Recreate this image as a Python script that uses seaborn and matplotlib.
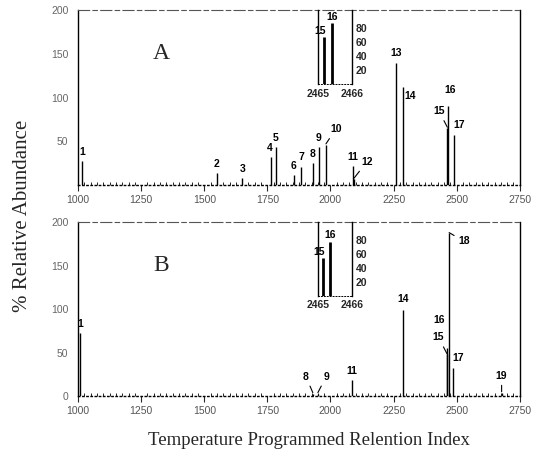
import matplotlib
matplotlib.use('Agg')
from matplotlib import pyplot as plt
from matplotlib.ticker import MultipleLocator
import seaborn as sns
import pandas as pd

# peak data: retention index, % relative abundance
a_ids = ["1", "2", "3", "4", "5", "6", "7", "8", "9", "10", "11", "12", "13", "14", "15", "16", "17"]
a_ri = [1016, 1550, 1650, 1764, 1784, 1855, 1883, 1930, 1954, 1982, 2089, 2094, 2259, 2287, 2463, 2467, 2488]
a_ab = [27, 14, 8, 32, 43, 11, 21, 25, 43, 46, 22, 7, 139, 112, 65, 90, 57]

b_ids = ["1", "8", "9", "11", "14", "15", "16", "18", "17", "19"]
b_ri = [1008, 1930, 1950, 2085, 2287, 2461, 2463, 2470, 2484, 2678]
b_ab = [72, 3, 3, 18, 99, 48, 55, 187, 32, 4]

# expanded inset around RI 2465-2466 (peaks 15 and 16)
inset_ids = ["15", "16"]
a_inset_ri = [2465.18, 2465.41]
a_inset_ab = [67, 87]
b_inset_ri = [2465.15, 2465.36]
b_inset_ab = [54, 78]

xticks = [1000, 1250, 1500, 1750, 2000, 2250, 2500, 2750]

# label offsets (points) and whether an arrow is drawn
a_style = {"10": (7, 7, True), "12": (9, 8, True), "15": (-6, 8, True), "16": (1, 8, False),
           "13": (0, 4, False), "14": (5, -10, False), "17": (4, 4, False), "4": (-1, 3, False)}
b_style = {"8": (-5, 8, True), "9": (6, 8, True), "15": (-6, 8, True), "18": (11, -10, True),
           "19": (0, 8, True), "16": (-6, 17, False), "17": (4, 4, False), "14": (0, 4, False)}

sns.set_theme(style="ticks")
plt.rcParams['font.family'] = ['Liberation Sans', 'DejaVu Sans']

fig = plt.figure(figsize=(5.46, 4.59), dpi=100)
ax_a = fig.add_axes([0.143, 0.597, 0.809, 0.381])
ax_b = fig.add_axes([0.143, 0.137, 0.809, 0.379])

lab_font = dict(fontsize=7.5, fontweight='bold', color='black')


def panel(ax, ids, ri, ab, style, letter, show_zero, ins_ri, ins_ab):
    df = pd.DataFrame({"id": ids, "ri": ri, "ab": ab})
    ax.vlines(df["ri"], 0, df["ab"], color='black', lw=1.0)
    for _, r in df.iterrows():
        dx, dy, arrow = style.get(r["id"], (0, 3, False))
        if arrow:
            ax.annotate(r["id"], (r["ri"], r["ab"] + 1), xytext=(dx, dy), textcoords='offset points',
                        ha='center', va='bottom', arrowprops=dict(arrowstyle='-', lw=0.8, color='black',
                                                                   shrinkA=1, shrinkB=0), **lab_font)
        else:
            ax.annotate(r["id"], (r["ri"], r["ab"]), xytext=(dx, dy), textcoords='offset points',
                        ha='center', va='bottom', **lab_font)
    ax.set_xlim(1000, 2750)
    ax.set_ylim(0, 200)
    ax.set_xticks(xticks)
    ax.xaxis.set_minor_locator(MultipleLocator(25))
    ax.set_yticks([0, 50, 100, 150, 200] if show_zero else [50, 100, 150, 200])
    ax.tick_params(axis='x', which='major', direction='out', length=4, width=0.8, labelsize=7.5,
                   labelcolor='#555555', pad=3)
    ax.tick_params(axis='x', which='minor', direction='in', length=2.5, width=0.7)
    ax.tick_params(axis='y', length=0, labelsize=7.5, labelcolor='#666666', pad=7)
    for s in ['left', 'right', 'bottom']:
        ax.spines[s].set_color('black')
        ax.spines[s].set_linewidth(1.0)
    ax.spines['top'].set_color('#555555')
    ax.spines['top'].set_linewidth(0.8)
    ax.spines['top'].set_linestyle((0, (10, 3, 4, 3)))
    ax.spines['bottom'].set_linestyle((0, (1, 2)))
    ax.text(1330, 150, letter, fontsize=17, family='Liberation Serif', ha='center', va='center')

    ins = ax.inset_axes([1952, 115, 133, 85], transform=ax.transData)
    ins.patch.set_alpha(0)
    ins.vlines(ins_ri, 0, ins_ab, color='black', lw=2.0)
    for name, x, y in zip(inset_ids, ins_ri, ins_ab):
        ins.annotate(name, (x, y), xytext=(-3 if name == "15" else 0, 1), textcoords='offset points',
                     ha='center', va='bottom', **lab_font)
    ins.set_xlim(2465, 2466)
    ins.set_ylim(0, 106)
    ins.set_xticks([2465, 2466])
    ins.set_xticklabels(["2465", "2466"])
    ins.set_yticks([20, 40, 60, 80])
    ins.yaxis.tick_right()
    ins.tick_params(axis='both', length=0, labelsize=7.5, pad=3)
    for t in ins.get_xticklabels() + ins.get_yticklabels():
        t.set_fontweight('bold')
    ins.spines['top'].set_visible(False)
    for s in ['left', 'right']:
        ins.spines[s].set_visible(True)
        ins.spines[s].set_color('black')
        ins.spines[s].set_linewidth(1.0)
    ins.spines['bottom'].set_linestyle((0, (1, 2)))
    ins.spines['bottom'].set_linewidth(0.7)
    ins.spines['bottom'].set_color('black')


panel(ax_a, a_ids, a_ri, a_ab, a_style, "A", False, a_inset_ri, a_inset_ab)
panel(ax_b, b_ids, b_ri, b_ab, b_style, "B", True, b_inset_ri, b_inset_ab)

fig.text(0.042, 0.53, "% Relative Abundance", rotation=90, ha='center', va='center',
         fontsize=15, family='Liberation Serif')
fig.text(0.565, 0.04, "Temperature Programmed Relention Index", ha='center', va='center',
         fontsize=13.5, family='Liberation Serif')

fig.savefig('out.png', dpi=100)
